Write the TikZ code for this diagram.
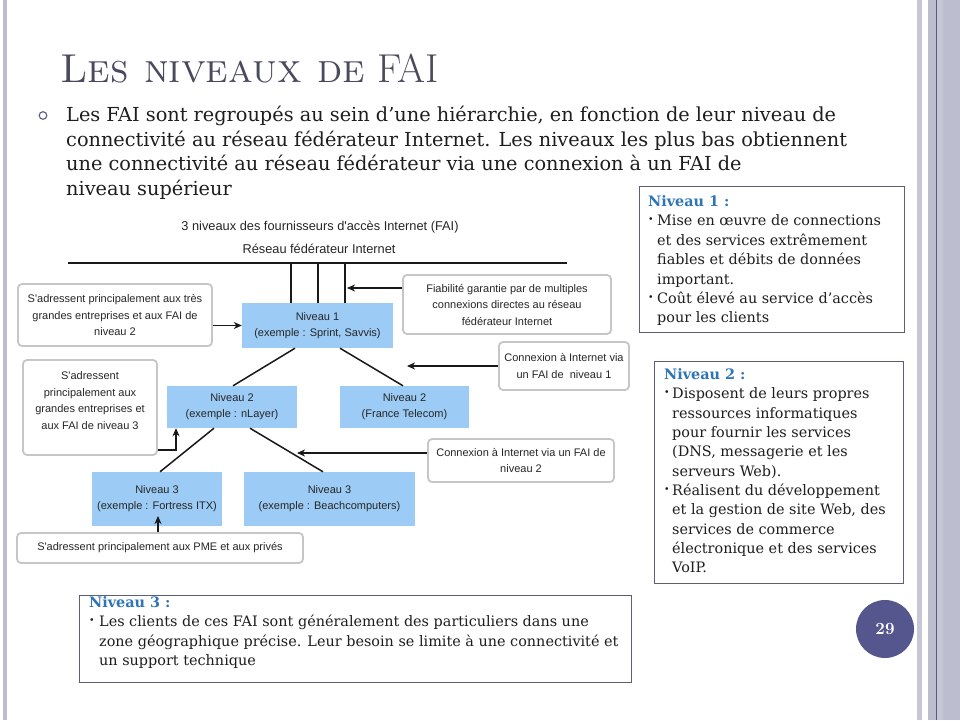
\documentclass[tikz,border=0pt]{standalone}
\usepackage{fontspec}
\usepackage{graphicx}
\usetikzlibrary{arrows.meta}
\newfontfamily\diagfont{Liberation Sans}
\newfontfamily\slidefont{DejaVu Serif}
\definecolor{titlegray}{HTML}{4A4A5E}
\definecolor{headblue}{HTML}{2F75B5}
\definecolor{framegray}{HTML}{5E5E78}
\definecolor{lvlblue}{HTML}{9CCBF6}
\definecolor{notegray}{HTML}{C6C6C6}
\definecolor{barlilac}{HTML}{BDBDD0}
\definecolor{barlight}{HTML}{C6C6D6}
\definecolor{barline}{HTML}{5A5A7C}
\definecolor{badge}{HTML}{55568E}
\definecolor{bodyblack}{HTML}{1E1E1E}
\definecolor{dotpurple}{HTML}{5A5A8C}
% one line of text, placed on its baseline
\newcommand\txtln[4]{\node[tline] (#1) at (#2,#3) {#4};}
% small bullet in a box of given width
\newcommand\bul[1]{\makebox[#1][l]{\raisebox{.18em}{\scalebox{.65}{\textbullet}}}}
\begin{document}
\begin{tikzpicture}[x=1pt,y=-1pt,
  lvl/.style={fill=lvlblue, inner sep=0pt, align=center,
    font=\diagfont\fontsize{11}{16}\selectfont, text=black!85},
  note/.style={draw=notegray, line width=1.8pt, rounded corners=4pt, fill=white,
    inner sep=0pt, align=center, font=\diagfont\fontsize{11}{16.5}\selectfont, text=black!85},
  link/.style={line width=1.5pt, black!90},
  arr/.style={link, -{Stealth[length=8pt,width=7pt,inset=2.5pt]}},
  frame/.style={draw=framegray, line width=0.9pt, fill=white},
  tline/.style={anchor=base west, inner sep=0pt, font=\slidefont\fontsize{14.4}{19.4}\selectfont, text=bodyblack},
  head/.style={text=headblue, font=\slidefont\fontsize{14.4}{19.4}\selectfont\bfseries},
  bodyln/.style={anchor=base west, inner sep=0pt, font=\slidefont\fontsize{19.3}{24.5}\selectfont, text=bodyblack},
  dcaption/.style={inner sep=0pt, font=\diagfont\fontsize{12.8}{14}\selectfont, text=black!85}
]
\useasboundingbox (0,0) rectangle (960,720);
\fill[white] (0,0) rectangle (960,720);

% slide frame bars
\fill[barlilac] (3,0) rectangle (7,720);
\fill[barlight] (917,0) rectangle (922,720);
\fill[barlilac] (928,0) rectangle (960,720);
\fill[barlight] (937,0) rectangle (943,720);
\draw[barline, line width=1pt] (936,0) -- (936,720);

% title and introduction
\node[anchor=base west, inner sep=0pt, text=titlegray, font=\fontsize{40.4}{40.4}\selectfont]
  (title) at (60,82) {\textsc{Les niveaux de} FAI};
\draw[dotpurple, line width=1.1pt] (43,115.5) circle (3.8);
\node[bodyln] (intro1) at (66,121.7) {Les FAI sont regroupés au sein d’une hiérarchie, en fonction de leur niveau de};
\node[bodyln] (intro2) at (66,146.2) {connectivité au réseau fédérateur Internet. Les niveaux les plus bas obtiennent};
\node[bodyln] (intro3) at (66,170.7) {une connectivité au réseau fédérateur via une connexion à un FAI de};
\node[bodyln] (intro4) at (66,195.2) {niveau supérieur};

% ---------------- hierarchy diagram ----------------
\node[dcaption] (dtitle) at (320,227) {3 niveaux des fournisseurs d'accès Internet (FAI)};
\node[dcaption] (dnet) at (319,249) {Réseau fédérateur Internet};
\coordinate (bbL) at (68,263);
\coordinate (bbR) at (567,263);
\draw[link] (bbL) -- (bbR);

\node[lvl, minimum width=151pt, minimum height=45pt] (n1) at (317.5,325.5)
  {Niveau 1\\(exemple : Sprint, Savvis)};
\node[lvl, minimum width=130pt, minimum height=42pt] (n2a) at (232,407)
  {Niveau 2\\(exemple : nLayer)};
\node[lvl, minimum width=129pt, minimum height=42pt] (n2b) at (404.5,407)
  {Niveau 2\\(France Telecom)};
\node[lvl, minimum width=130pt, minimum height=54pt] (n3a) at (157,499)
  {Niveau 3\\(exemple : Fortress ITX)};
\node[lvl, minimum width=171pt, minimum height=54pt] (n3b) at (329.5,499)
  {Niveau 3\\(exemple : Beachcomputers)};

% backbone links
\coordinate (v1) at (291,263);
\coordinate (v2) at (318,263);
\coordinate (v3) at (345,263);
\draw[link] (v1) -- (v1 |- n1.north);
\draw[link] (v2) -- (v2 |- n1.north);
\draw[link] (v3) -- (v3 |- n1.north);

% tree links
\draw[link] ([xshift=-22.5pt]n1.south) -- ([xshift=1pt]n2a.north);
\draw[link] ([xshift=22.5pt]n1.south) -- ([xshift=-1.5pt]n2b.north);
\draw[link] ([xshift=-18pt]n2a.south) -- ([xshift=3pt]n3a.north);
\draw[link] ([xshift=18pt]n2a.south) -- ([xshift=-6.5pt]n3b.north);

% callouts
\node[note, minimum width=208pt, minimum height=59pt] (fiab) at (507,304.5)
  {Fiabilité garantie par de multiples\\connexions directes au réseau\\fédérateur Internet};
\node[note, minimum width=194pt, minimum height=62pt] (gA) at (115,315)
  {S'adressent principalement aux très\\grandes entreprises et aux FAI de\\niveau 2};
\node[note, minimum width=130pt, minimum height=48pt] (c1) at (564,366)
  {Connexion à Internet via\\un FAI de~ niveau 1};
\node[note, minimum width=134pt, minimum height=95pt, text depth=14pt] (gB) at (90,407.5)
  {S'adressent\\principalement aux\\grandes entreprises et\\aux FAI de niveau 3};
\node[note, minimum width=186pt, minimum height=43pt] (c2) at (521,460.5)
  {Connexion à Internet via un FAI de\\niveau 2};
\node[note, minimum width=286pt, minimum height=30pt] (gC) at (160,548)
  {S'adressent principalement aux PME et aux privés};

% callout arrows
\coordinate (fa) at (347,288);
\draw[arr] (fiab.west |- fa) -- (fa);
\draw[arr] (gA.east |- n1.west) -- (n1.west);
\coordinate (ca) at (407,366);
\draw[arr] (c1.west |- ca) -- (ca);
\draw[arr] ([yshift=-42.5pt]gB.east) -| ([xshift=-56pt]n2a.south);
\coordinate (cb) at (297,453);
\draw[arr] (c2.west |- cb) -- (cb);
\coordinate (cc) at (158,516);
\draw[arr] (gC.north -| cc) -- (cc);

% ---------------- side boxes ----------------
\draw[frame] (639,186) rectangle (904,332);
\node[tline, head] (h1) at (648,206) {Niveau 1 :};
\txtln{a1}{648}{225.5}{\bul{9pt}Mise en œuvre de connections}
\txtln{a2}{657}{245}{et des services extrêmement}
\txtln{a3}{657}{264.5}{fiables et débits de données}
\txtln{a4}{657}{284}{important.}
\txtln{a5}{648}{303}{\bul{9pt}Coût élevé au service d’accès}
\txtln{a6}{657}{322.5}{pour les clients}

\draw[frame] (654,361) rectangle (903,583);
\node[tline, head] (h2) at (664,379) {Niveau 2 :};
\txtln{b1}{664}{398.5}{\bul{8pt}Disposent de leurs propres}
\txtln{b2}{672}{418}{ressources informatiques}
\txtln{b3}{672}{437}{pour fournir les services}
\txtln{b4}{672}{456.5}{(DNS, messagerie et les}
\txtln{b5}{672}{476}{serveurs Web).}
\txtln{b6}{664}{495.5}{\bul{8pt}Réalisent du développement}
\txtln{b7}{672}{514.5}{et la gestion de site Web, des}
\txtln{b8}{672}{534}{services de commerce}
\txtln{b9}{672}{553}{électronique et des services}
\txtln{b10}{672}{572.5}{VoIP.}

\draw[frame] (79,595) rectangle (631,682);
\node[tline, head] (h3) at (89,607) {Niveau 3 :};
\txtln{c1l}{89}{626.5}{\bul{10pt}Les clients de ces FAI sont généralement des particuliers dans une}
\txtln{c2l}{99}{646}{zone géographique précise. Leur besoin se limite à une connectivité et}
\txtln{c3l}{99}{665.5}{un support technique}

% page number badge
\node[circle, fill=badge, minimum size=58pt, inner sep=0pt, text=white,
  font=\fontsize{17}{17}\selectfont\bfseries] (page) at (885,629) {29};
\end{tikzpicture}
\end{document}
